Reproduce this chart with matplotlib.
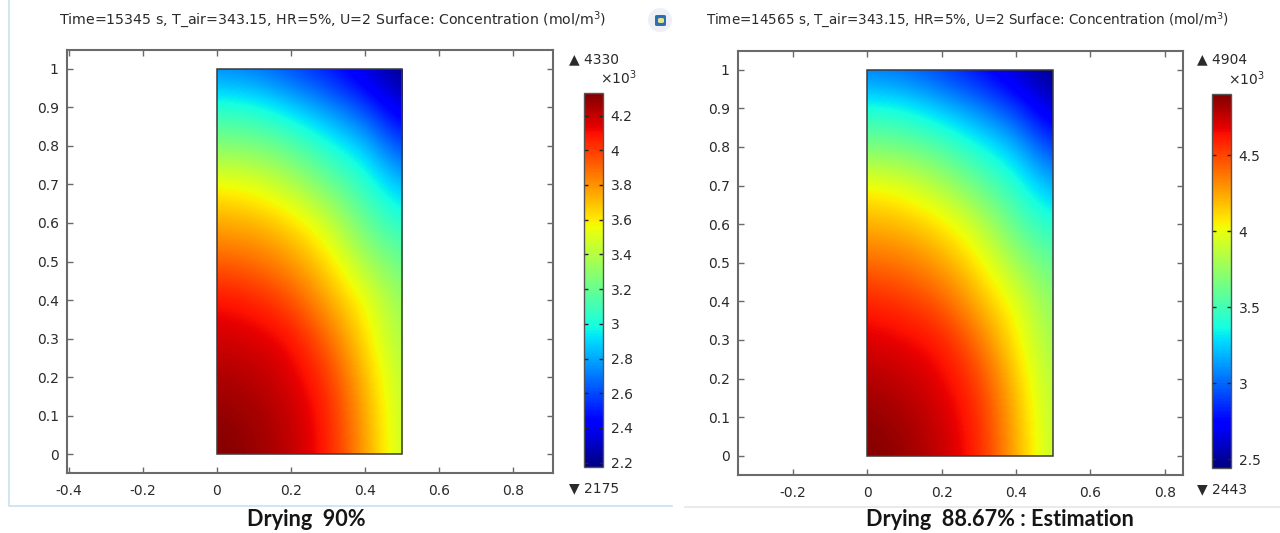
import numpy as np
import matplotlib
matplotlib.use("Agg")
import matplotlib.pyplot as plt
from matplotlib.lines import Line2D
from matplotlib.patches import Rectangle, FancyBboxPatch, Ellipse

W, H = 1280, 533

# Concentration (x10^3 mol/m^3); columns x = 0..0.5, rows y = 0..1
x_nodes = [0.0, 0.1, 0.2, 0.3, 0.4, 0.5]
y_nodes = [0.0, 0.1, 0.2, 0.3, 0.4, 0.5, 0.6, 0.7, 0.8, 0.9, 1.0]
conc_left = [
    [4.330, 4.287, 4.212, 4.080, 3.770, 3.425],
    [4.298, 4.265, 4.201, 4.070, 3.750, 3.414],
    [4.244, 4.222, 4.158, 4.020, 3.700, 3.393],
    [4.179, 4.158, 4.110, 3.900, 3.619, 3.349],
    [4.100, 4.061, 3.960, 3.748, 3.554, 3.296],
    [3.921, 3.888, 3.791, 3.630, 3.360, 3.188],
    [3.748, 3.727, 3.640, 3.468, 3.188, 3.015],
    [3.570, 3.530, 3.403, 3.220, 3.048, 2.822],
    [3.274, 3.253, 3.166, 3.005, 2.865, 2.563],
    [3.037, 3.005, 2.886, 2.746, 2.584, 2.326],
    [2.714, 2.681, 2.584, 2.477, 2.326, 2.175],
]
conc_right = [
    [4.904, 4.855, 4.756, 4.610, 4.240, 3.846],
    [4.867, 4.818, 4.732, 4.590, 4.220, 3.834],
    [4.793, 4.756, 4.682, 4.530, 4.160, 3.809],
    [4.707, 4.670, 4.620, 4.390, 4.067, 3.760],
    [4.600, 4.547, 4.450, 4.215, 3.993, 3.698],
    [4.412, 4.375, 4.264, 4.080, 3.784, 3.587],
    [4.227, 4.190, 4.092, 3.895, 3.587, 3.390],
    [4.040, 3.980, 3.833, 3.624, 3.427, 3.169],
    [3.674, 3.649, 3.550, 3.378, 3.218, 2.874],
    [3.403, 3.366, 3.231, 3.083, 2.898, 2.603],
    [3.034, 2.997, 2.886, 2.763, 2.603, 2.443],
]
titles = ["Time=15345 s, T_air=343.15, HR=5%, U=2 Surface: Concentration (mol/m$^3$)",
          "Time=14565 s, T_air=343.15, HR=5%, U=2 Surface: Concentration (mol/m$^3$)"]
captions = ["Drying  90%", "Drying  88.67% : Estimation"]
xticks_left = [-0.4, -0.2, 0, 0.2, 0.4, 0.6, 0.8]
xticks_right = [-0.2, 0, 0.2, 0.4, 0.6, 0.8]
yticks = [0, 0.1, 0.2, 0.3, 0.4, 0.5, 0.6, 0.7, 0.8, 0.9, 1]
cticks_left = [2.2, 2.4, 2.6, 2.8, 3, 3.2, 3.4, 3.6, 3.8, 4, 4.2]
cticks_right = [2.5, 3, 3.5, 4, 4.5]
max_min_left = (4330, 2175)
max_min_right = (4904, 2443)

plt.rcParams["font.family"] = ["DejaVu Sans"]
plt.rcParams["mathtext.fontset"] = "dejavusans"
TXT = "#2a2a2a"
FRAME = "#6a6a6a"

fig = plt.figure(figsize=(W / 100, H / 100), dpi=100, facecolor="white")


def ax_px(l, t, r, b):
    return fig.add_axes([l / W, 1 - b / H, (r - l) / W, (b - t) / H])


def ftext(x, y, s, **kw):
    kw.setdefault("color", TXT)
    kw.setdefault("va", "center")
    fig.text(x / W, 1 - y / H, s, **kw)


def fmt(v):
    return "%g" % v


def panel(frame, xlim, ylim, xticks, conc, bar, cticks, extremes, title, title_x, title_fs,
          marks_x, top_y, bot_y, scale_xy, cap, cap_x, cap_y, tick_fs):
    ax = ax_px(*frame)
    data = np.array(conc)
    dx = x_nodes[1] - x_nodes[0]
    dy = y_nodes[1] - y_nodes[0]
    im = ax.imshow(data, origin="lower", cmap="jet", vmin=extremes[1] / 1000, vmax=extremes[0] / 1000,
                   extent=(x_nodes[0] - dx / 2, x_nodes[-1] + dx / 2, y_nodes[0] - dy / 2, y_nodes[-1] + dy / 2),
                   aspect="auto", interpolation="bicubic", interpolation_stage="data", zorder=1)
    box = Rectangle((x_nodes[0], y_nodes[0]), x_nodes[-1] - x_nodes[0], y_nodes[-1] - y_nodes[0],
                    fc="none", ec="#3a3a3a", lw=1.1, zorder=3)
    ax.add_patch(box)
    im.set_clip_path(box)
    ax.set_xlim(*xlim)
    ax.set_ylim(*ylim)
    ax.set_xticks(xticks, [fmt(v) for v in xticks])
    ax.set_yticks(yticks, [fmt(v) for v in yticks])
    ax.tick_params(direction="in", top=True, right=True, length=4.5, width=1, color=FRAME,
                   labelsize=tick_fs, labelcolor=TXT)
    ax.tick_params(axis="x", pad=8)
    ax.tick_params(axis="y", pad=6)
    for s in ax.spines.values():
        s.set_color(FRAME)
        s.set_linewidth(1.5)

    cax = ax_px(*bar)
    cb = fig.colorbar(im, cax=cax)
    cb.set_ticks(cticks, labels=[fmt(v) for v in cticks])
    cax.tick_params(direction="in", left=True, right=True, length=3, width=1, color="#222222",
                    labelsize=tick_fs, labelcolor=TXT, pad=5.5)
    cb.outline.set_edgecolor("#555555")
    cb.outline.set_linewidth(1)

    ftext(title_x, 20, title, fontsize=title_fs)
    ftext(marks_x, top_y, "\u25b2 %d" % extremes[0], fontsize=tick_fs)
    ftext(marks_x, bot_y, "\u25bc %d" % extremes[1], fontsize=tick_fs)
    ftext(scale_xy[0], scale_xy[1], "\u00d710$^3$", fontsize=tick_fs, ha="right")
    ftext(cap_x, cap_y, cap, fontsize=15.6, fontweight="bold", family="Lato", ha="center", color="#151515")


panel((67, 50, 553, 473), (-0.405, 0.908), (-0.049, 1.049), xticks_left, conc_left,
      (584, 93, 603, 467), cticks_left, max_min_left, titles[0], 59, 10.2,
      569, 59, 488, (637, 78), captions[0], 306, 519, 10)
panel((738, 50.5, 1183, 475), (-0.348, 0.849), (-0.05, 1.05), xticks_right, conc_right,
      (1212, 94, 1231, 468), cticks_right, max_min_right, titles[1], 706, 9.75,
      1197, 59, 489, (1265, 79), captions[1], 1000, 519, 10)


def fline(xs, ys, **kw):
    fig.add_artist(Line2D([x / W for x in xs], [1 - y / H for y in ys], transform=fig.transFigure, **kw))


fline([9, 9, 672], [0, 506, 506], color="#c9e2f0", lw=1.2)
fline([685, 1280], [507, 507], color="#e6e6e6", lw=1.2)

# small window icon beside the left title
fig.add_artist(Ellipse((660 / W, 1 - 20 / H), 24 / W, 24 / H, transform=fig.transFigure, fc="#eef0f5", ec="none"))
for (l, t, w, h, col) in [(655, 15, 11, 11, "#2a6fb5"), (658, 18, 6, 5, "#e8e28a")]:
    fig.add_artist(FancyBboxPatch((l / W, 1 - (t + h) / H), w / W, h / H, transform=fig.transFigure,
                                  boxstyle="round,pad=0,rounding_size=0.002", fc=col, ec="none"))

fig.savefig("out.png", dpi=100)
